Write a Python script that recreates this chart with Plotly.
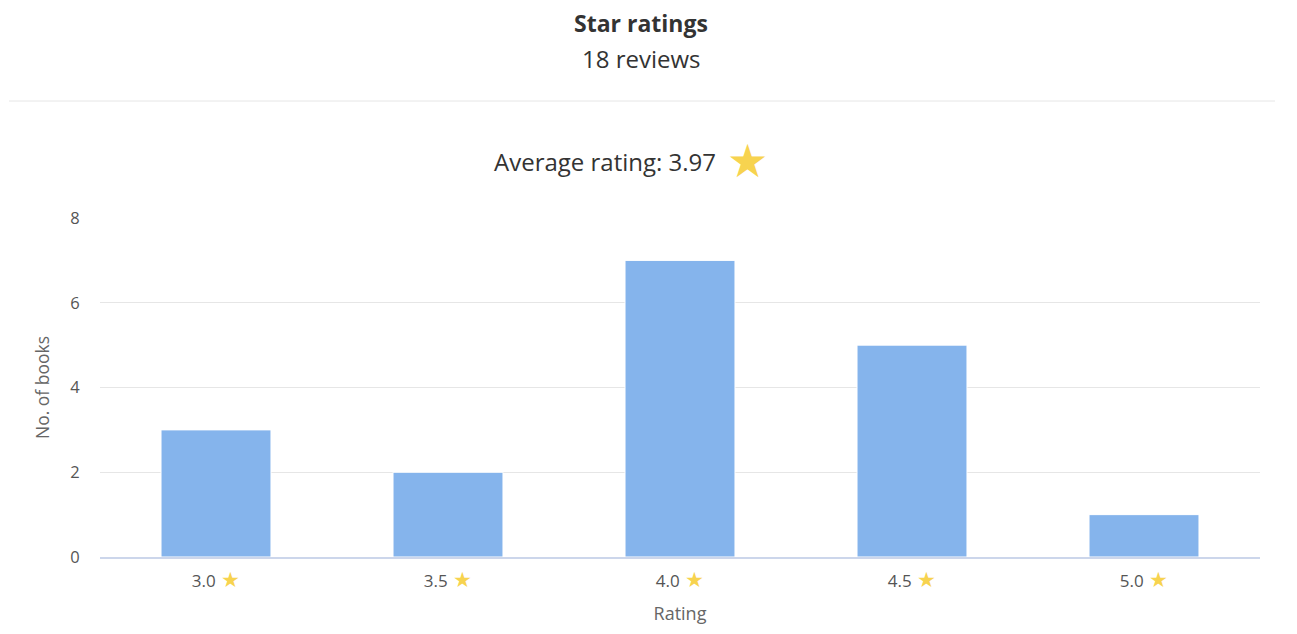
import plotly.graph_objects as go

ratings = ["3.0", "3.5", "4.0", "4.5", "5.0"]
counts = [3, 2, 7, 5, 1]
y_ticks = [0, 2, 4, 6, 8]

title_text = "Star ratings"
subtitle_text = "18 reviews"
avg_text = "Average rating: 3.97"

FONT = "Open Sans, Noto Sans, sans-serif"
STAR = "#f7d34f"

tick_text = [f"{r}<span style='color:{STAR};font-size:21px'> ★</span>" for r in ratings]

fig = go.Figure(go.Bar(x=ratings, y=counts,
                       marker=dict(color="#85b4ec", line=dict(width=1, color="#ffffff")),
                       hovertemplate="%{x}: %{y}<extra></extra>"))

# page body has an 8px margin: figure origin sits at (8, 8) on the screen
OX, OY = 8, 8
W, H = 1297 - OX, 634 - OY
# plot area in screen pixels: x 100..1260, y 218..557
L, R, T, B = 100 - OX, 1297 - 1260, 218 - OY, 634 - 557
pw, ph = W - L - R, H - T - B

def px(x):
    return (x - OX - L) / pw

def py(y):
    return (H - B - (y - OY)) / ph

fig.update_layout(
    width=W, height=H,
    margin=dict(l=L, r=R, t=T, b=B),
    paper_bgcolor="white", plot_bgcolor="white",
    bargap=0.526,
    showlegend=False,
    font=dict(family=FONT, color="#666666"),
    xaxis=dict(
        tickmode="array", tickvals=ratings, ticktext=tick_text,
        tickfont=dict(size=17, color="#555555"),
        showline=True, linecolor="#ccd6eb", linewidth=1.5,
        showgrid=False, ticks="outside", ticklen=8, tickcolor="rgba(0,0,0,0)",
        title=dict(text="Rating", font=dict(size=18, color="#666666"), standoff=15),
    ),
    yaxis=dict(
        range=[0, 8], tickvals=y_ticks, ticktext=[str(v) for v in y_ticks],
        tickfont=dict(size=16.5, color="#555555"),
        gridcolor="#e6e6e6", gridwidth=1, zeroline=False, showline=False,
        ticks="outside", ticklen=16, tickcolor="rgba(0,0,0,0)",
        title=dict(text="No. of books", font=dict(size=17.5, color="#666666"), standoff=16),
    ),
    shapes=[dict(type="line", xref="paper", yref="paper",
                 x0=px(9), x1=px(1275), y0=py(101), y1=py(101),
                 line=dict(color="#e6e6e6", width=1))],
    annotations=[
        dict(text=f"<b>{title_text}</b>", xref="paper", yref="paper", x=px(641), y=py(23),
             showarrow=False, font=dict(size=23, color="#333333", family=FONT), yanchor="middle"),
        dict(text=subtitle_text, xref="paper", yref="paper", x=px(641), y=py(59),
             showarrow=False, font=dict(size=24, color="#333333", family=FONT), yanchor="middle"),
        dict(text=avg_text, xref="paper", yref="paper", x=px(605), y=py(162),
             showarrow=False, font=dict(size=24, color="#333333", family=FONT), yanchor="middle"),
        dict(text="★", xref="paper", yref="paper", x=px(747), y=py(161),
             showarrow=False, font=dict(size=46, color=STAR, family="DejaVu Sans"), yanchor="middle"),
    ],
)

fig.write_html("out.html")
